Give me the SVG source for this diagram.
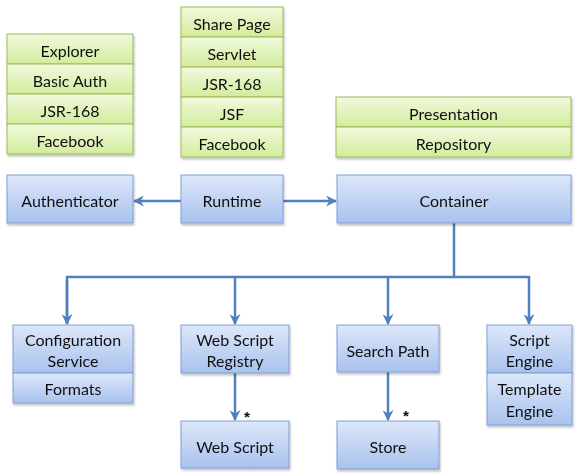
<svg xmlns="http://www.w3.org/2000/svg" width="578" height="476" viewBox="0 0 578 476">
<style>
.g{fill:url(#gg);stroke:#9bbb59;stroke-width:1}
.b{fill:url(#bg);stroke:#7f9fd3;stroke-width:1}
text{font-family:Lato,"Liberation Sans",sans-serif;font-size:16px;fill:#111;text-anchor:middle}
.c{fill:none;stroke:#4f81bd;stroke-width:2.5}
.s{font-family:"Liberation Sans",sans-serif;font-size:15px;font-weight:bold}
</style>
<defs>
<linearGradient id="gg" x1="0" y1="0" x2="0" y2="1"><stop offset="0" stop-color="#f1f9de"/><stop offset="1" stop-color="#d3ec9c"/></linearGradient>
<linearGradient id="bg" x1="0" y1="0" x2="0" y2="1"><stop offset="0" stop-color="#dde7f9"/><stop offset="1" stop-color="#a9c2ee"/></linearGradient>
<filter id="sh" x="-10%" y="-10%" width="130%" height="140%"><feDropShadow dx="1" dy="2" stdDeviation="1.2" flood-color="#000" flood-opacity="0.25"/></filter>
<marker id="ar" viewBox="0 0 10 10" refX="9" refY="5" markerWidth="4.4" markerHeight="4.4" orient="auto" markerUnits="strokeWidth"><path d="M0,0 L10,5 L0,10 L3,5 Z" fill="#4f81bd"/></marker>
</defs>
<g id="stack-auth" filter="url(#sh)">
<rect class="g" x="7" y="34" width="126" height="30"/><text x="70" y="57">Explorer</text>
<rect class="g" x="7" y="64" width="126" height="30"/><text x="70" y="87">Basic Auth</text>
<rect class="g" x="7" y="94" width="126" height="30"/><text x="70" y="117">JSR-168</text>
<rect class="g" x="7" y="124" width="126" height="30"/><text x="70" y="147">Facebook</text>
</g>
<g id="stack-runtime" filter="url(#sh)">
<rect class="g" x="181" y="7" width="102" height="30"/><text x="232" y="30">Share Page</text>
<rect class="g" x="181" y="37" width="102" height="30"/><text x="232" y="60">Servlet</text>
<rect class="g" x="181" y="67" width="102" height="30"/><text x="232" y="90">JSR-168</text>
<rect class="g" x="181" y="97" width="102" height="30"/><text x="232" y="120">JSF</text>
<rect class="g" x="181" y="127" width="102" height="30"/><text x="232" y="150">Facebook</text>
</g>
<g id="stack-container" filter="url(#sh)">
<rect class="g" x="336" y="97" width="235" height="30"/><text x="453.5" y="119.5">Presentation</text>
<rect class="g" x="336" y="127" width="235" height="30"/><text x="453.5" y="149.5">Repository</text>
</g>
<g id="connectors">
<line class="c" x1="181" y1="201" x2="134" y2="201" marker-end="url(#ar)"/>
<line class="c" x1="283" y1="201" x2="336" y2="201" marker-end="url(#ar)"/>
<polyline class="c" points="454,223 454,277"/>
<polyline class="c" points="67,324 67,277 529,277 529,324" marker-end="url(#ar)"/>
<line class="c" x1="67" y1="280" x2="67" y2="324" marker-end="url(#ar)"/>
<line class="c" x1="235" y1="277" x2="235" y2="324" marker-end="url(#ar)"/>
<line class="c" x1="388" y1="277" x2="388" y2="324" marker-end="url(#ar)"/>
<line class="c" x1="235" y1="373" x2="235" y2="420" marker-end="url(#ar)"/>
<line class="c" x1="388" y1="372" x2="388" y2="420" marker-end="url(#ar)"/>
<text class="s" x="247" y="422">*</text>
<text class="s" x="406" y="421">*</text>
</g>
<g id="authenticator" filter="url(#sh)"><rect class="b" x="7" y="175" width="126" height="48"/><text x="70" y="207">Authenticator</text></g>
<g id="runtime" filter="url(#sh)"><rect class="b" x="181" y="175" width="102" height="48"/><text x="232" y="207">Runtime</text></g>
<g id="container" filter="url(#sh)"><rect class="b" x="337" y="175" width="234" height="48"/><text x="454" y="207">Container</text></g>
<g id="config" filter="url(#sh)">
<rect class="b" x="13" y="325" width="120" height="48"/><text x="73" y="346">Configuration</text><text x="73" y="367">Service</text>
<rect class="b" x="13" y="373" width="120" height="30"/><text x="73" y="395">Formats</text>
</g>
<g id="registry" filter="url(#sh)"><rect class="b" x="181" y="325" width="108" height="48"/><text x="235" y="346">Web Script</text><text x="235" y="367">Registry</text></g>
<g id="webscript" filter="url(#sh)"><rect class="b" x="181" y="421" width="108" height="47"/><text x="235" y="452.5">Web Script</text></g>
<g id="searchpath" filter="url(#sh)"><rect class="b" x="337" y="325" width="102" height="47"/><text x="388" y="356.5">Search Path</text></g>
<g id="store" filter="url(#sh)"><rect class="b" x="337" y="421" width="102" height="48"/><text x="388" y="452.5">Store</text></g>
<g id="engines" filter="url(#sh)">
<rect class="b" x="487" y="325" width="85" height="48"/><text x="529.5" y="346">Script</text><text x="529.5" y="367">Engine</text>
<rect class="b" x="487" y="373" width="85" height="52"/><text x="529.5" y="395">Template</text><text x="529.5" y="416.5">Engine</text>
</g>
</svg>
